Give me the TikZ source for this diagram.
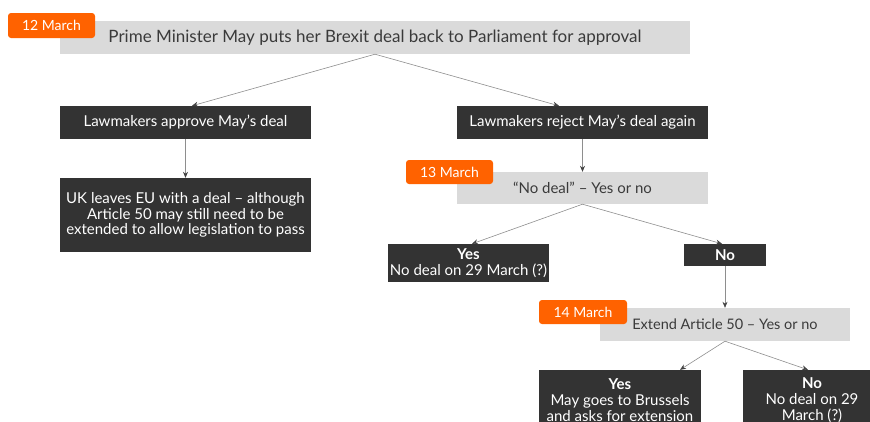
\documentclass[tikz,border=0pt]{standalone}
\usepackage{fontspec}
\setmainfont{Lato}
\usepackage{xcolor}
\usepackage{tikz}
\usetikzlibrary{calc, arrows.meta, positioning}

\definecolor{ingorange}{HTML}{FF6200}
\definecolor{boxgray}{HTML}{DADADA}
\definecolor{boxdark}{HTML}{333333}
\definecolor{textgray}{HTML}{3A3A3A}
\definecolor{linegray}{HTML}{8E8E8E}
\definecolor{tipdark}{HTML}{444444}

\begin{document}
\begin{tikzpicture}[x=1pt, y=-1pt,
    >={Stealth[length=6pt, width=5pt, color=tipdark]},
    graybox/.style={fill=boxgray, text=textgray, inner sep=0pt,
        font=\fontsize{15}{15.5}\selectfont},
    darkbox/.style={fill=boxdark, text=white, inner sep=0pt, align=center,
        font=\fontsize{15}{15.8}\selectfont},
    datetab/.style={fill=ingorange, text=white, rounded corners=3pt, inner sep=0pt,
        font=\fontsize{14}{15}\selectfont},
    link/.style={->, draw=linegray, line width=0.6pt}]
            % Khung hình
            \useasboundingbox (0,0) rectangle (870,421);
            \clip (0,0) rectangle (870,421);

            % Bước 1: 12 March
            \node[graybox, minimum width=630, minimum height=33,
                font=\fontsize{17}{18}\selectfont] (plan) at (375,37.5)
                {Prime Minister May puts her Brexit deal back to Parliament for approval};
            \node[datetab, minimum width=87, minimum height=25] (d12) at (51.5,25.5) {12 March};

            % Hai nhánh đầu tiên
            \node[darkbox, minimum width=251, minimum height=33] (approve) at (185.5,122.5)
                {Lawmakers approve May’s deal};
            \node[darkbox, minimum width=251, minimum height=33] (reject) at (582.5,122.5)
                {Lawmakers reject May’s deal again};
            \node[darkbox, minimum width=251, minimum height=74] (withdeal) at (185.5,215)
                {UK leaves EU with a deal – although\\Article 50 may still need to be\\extended to allow legislation to pass};

            % Bước 2: 13 March
            \node[graybox, minimum width=251, minimum height=32] (nodeal) at (582.5,188)
                {“No deal” – Yes or no};
            \node[datetab, minimum width=87, minimum height=24] (d13) at (449.5,172) {13 March};
            \node[darkbox, minimum width=161, minimum height=38] (yesA) at (468.5,263)
                {\textbf{Yes}\\No deal on 29 March (?)};
            \node[darkbox, minimum width=82, minimum height=22] (noA) at (725,255)
                {\textbf{No}};

            % Bước 3: 14 March
            \node[graybox, minimum width=250, minimum height=33,
                font=\fontsize{14.5}{15}\selectfont] (extend) at (725,324.5)
                {Extend Article 50 – Yes or no};
            \node[datetab, minimum width=88, minimum height=24] (d14) at (583,312) {14 March};
            \node[darkbox, minimum width=162, minimum height=60] (yesB) at (620,400)
                {\textbf{Yes}\\May goes to Brussels\\and asks for extension};
            \node[darkbox, minimum width=138, minimum height=60] (noB) at (812,400)
                {\textbf{No}\\No deal on 29\\March (?)};

            % Các mũi tên
            \draw[link] (plan.south) -- ([xshift=6.5]approve.north);
            \draw[link] (plan.south) -- ([xshift=-23.5]reject.north);
            \draw[link] (approve.south) -- (withdeal.north);
            \draw[link] (reject.south) -- (nodeal.north);
            \draw[link] (nodeal.south) -- ([xshift=3.5]yesA.north);
            \draw[link] (nodeal.south) -- ([xshift=-3]noA.north);
            \draw[link] (noA.south) -- (extend.north);
            \draw[link] (extend.south) -- ([xshift=60]yesB.north);
            \draw[link] (extend.south) -- ([xshift=-4]noB.north);
        \end{tikzpicture}
\end{document}
